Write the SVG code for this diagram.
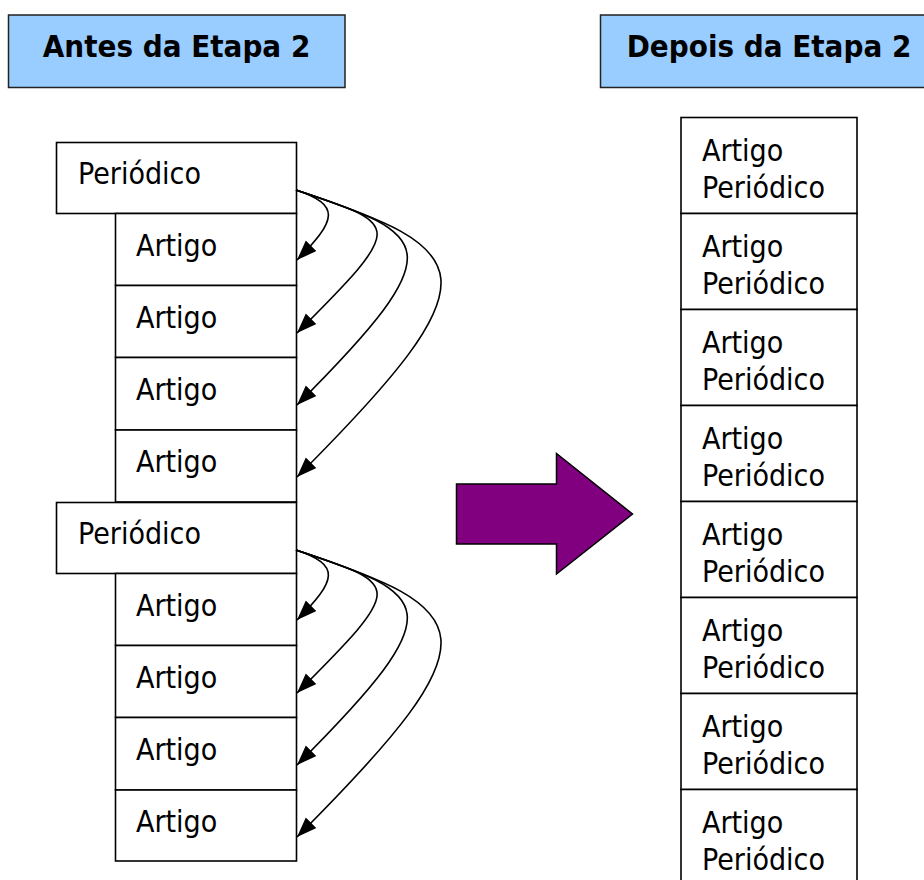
<svg xmlns="http://www.w3.org/2000/svg" width="924" height="880" viewBox="0 0 924 880">
<style>
.hdr{fill:#99CCFF;stroke:#222;stroke-width:1.5}
.box{fill:#fff;stroke:#000;stroke-width:1.6}
.ht{font-family:"DejaVu Sans Condensed","DejaVu Sans",sans-serif;font-weight:bold;font-size:31px;fill:#000}
.t{font-family:"DejaVu Sans Condensed","DejaVu Sans",sans-serif;font-size:30px;fill:#000}
.c{fill:none;stroke:#000;stroke-width:1.6}
</style>
<defs>
<marker id="ah" markerUnits="userSpaceOnUse" markerWidth="22" markerHeight="16" refX="20" refY="7.5" orient="auto">
<path d="M0,0 L20,7.5 L0,15 z" fill="#000"/>
</marker>
</defs>
<rect width="924" height="880" fill="#fff"/>
<g id="hdr-antes">
<rect class="hdr" x="8.5" y="15" width="336.5" height="72.5"/>
<text class="ht" x="176.5" y="57" text-anchor="middle">Antes da Etapa 2</text>
</g>
<g id="hdr-depois">
<rect class="hdr" x="600.5" y="15" width="330" height="72.5"/>
<text class="ht" x="769" y="57" text-anchor="middle">Depois da Etapa 2</text>
</g>
<g id="left-group-1">
<g id="periodico-1"><rect class="box" x="56.5" y="142.5" width="240" height="71"/><text class="t" x="78" y="183.5">Periódico</text></g>
<g id="artigo-1a"><rect class="box" x="115.5" y="213.5" width="181" height="72"/><text class="t" x="136" y="256">Artigo</text></g>
<g id="artigo-1b"><rect class="box" x="115.5" y="285.5" width="181" height="72"/><text class="t" x="136" y="328">Artigo</text></g>
<g id="artigo-1c"><rect class="box" x="115.5" y="357.5" width="181" height="72.5"/><text class="t" x="136" y="400">Artigo</text></g>
<g id="artigo-1d"><rect class="box" x="115.5" y="430" width="181" height="72"/><text class="t" x="136" y="472">Artigo</text></g>
</g>
<g id="left-group-2" transform="translate(0,360)">
<g id="periodico-2"><rect class="box" x="56.5" y="142.5" width="240" height="71"/><text class="t" x="78" y="183.5">Periódico</text></g>
<g id="artigo-2a"><rect class="box" x="115.5" y="213.5" width="181" height="72"/><text class="t" x="136" y="256">Artigo</text></g>
<g id="artigo-2b"><rect class="box" x="115.5" y="285.5" width="181" height="72"/><text class="t" x="136" y="328">Artigo</text></g>
<g id="artigo-2c"><rect class="box" x="115.5" y="357.5" width="181" height="72.5"/><text class="t" x="136" y="400">Artigo</text></g>
<g id="artigo-2d"><rect class="box" x="115.5" y="430" width="181" height="71"/><text class="t" x="136" y="472">Artigo</text></g>
</g>
<g id="connectors">
<g id="conn-1">
<path class="c" marker-end="url(#ah)" d="M296,190 C341,205 337,220 297,260"/>
<path class="c" marker-end="url(#ah)" d="M296,190 C401,225 407,223 297,333"/>
<path class="c" marker-end="url(#ah)" d="M296,190 C431,235 457,245 297,405"/>
<path class="c" marker-end="url(#ah)" d="M296,190 C476,250 502,272 297,477"/>
</g>
<g id="conn-2" transform="translate(0,360)">
<path class="c" marker-end="url(#ah)" d="M296,190 C341,205 337,220 297,260"/>
<path class="c" marker-end="url(#ah)" d="M296,190 C401,225 407,223 297,333"/>
<path class="c" marker-end="url(#ah)" d="M296,190 C431,235 457,245 297,405"/>
<path class="c" marker-end="url(#ah)" d="M296,190 C476,250 502,272 297,477"/>
</g>
</g>
<g id="big-arrow">
<path d="M456.5,484 L556.5,484 L556.5,453.5 L632.5,514 L556.5,574 L556.5,544 L456.5,544 z" fill="#800080" stroke="#000" stroke-width="1.5" stroke-linejoin="miter"/>
</g>
<g id="right-column">
<g id="r1"><rect class="box" x="681" y="117.5" width="176" height="96"/><text class="t" x="702" y="161">Artigo</text><text class="t" x="702" y="197.5">Periódico</text></g>
<g id="r2"><rect class="box" x="681" y="213.5" width="176" height="96"/><text class="t" x="702" y="257">Artigo</text><text class="t" x="702" y="293.5">Periódico</text></g>
<g id="r3"><rect class="box" x="681" y="309.5" width="176" height="96"/><text class="t" x="702" y="353">Artigo</text><text class="t" x="702" y="389.5">Periódico</text></g>
<g id="r4"><rect class="box" x="681" y="405.5" width="176" height="96"/><text class="t" x="702" y="449">Artigo</text><text class="t" x="702" y="485.5">Periódico</text></g>
<g id="r5"><rect class="box" x="681" y="501.5" width="176" height="96"/><text class="t" x="702" y="545">Artigo</text><text class="t" x="702" y="581.5">Periódico</text></g>
<g id="r6"><rect class="box" x="681" y="597.5" width="176" height="96"/><text class="t" x="702" y="641">Artigo</text><text class="t" x="702" y="677.5">Periódico</text></g>
<g id="r7"><rect class="box" x="681" y="693.5" width="176" height="96"/><text class="t" x="702" y="737">Artigo</text><text class="t" x="702" y="773.5">Periódico</text></g>
<g id="r8"><rect class="box" x="681" y="789.5" width="176" height="96"/><text class="t" x="702" y="833">Artigo</text><text class="t" x="702" y="869.5">Periódico</text></g>
</g>
</svg>
